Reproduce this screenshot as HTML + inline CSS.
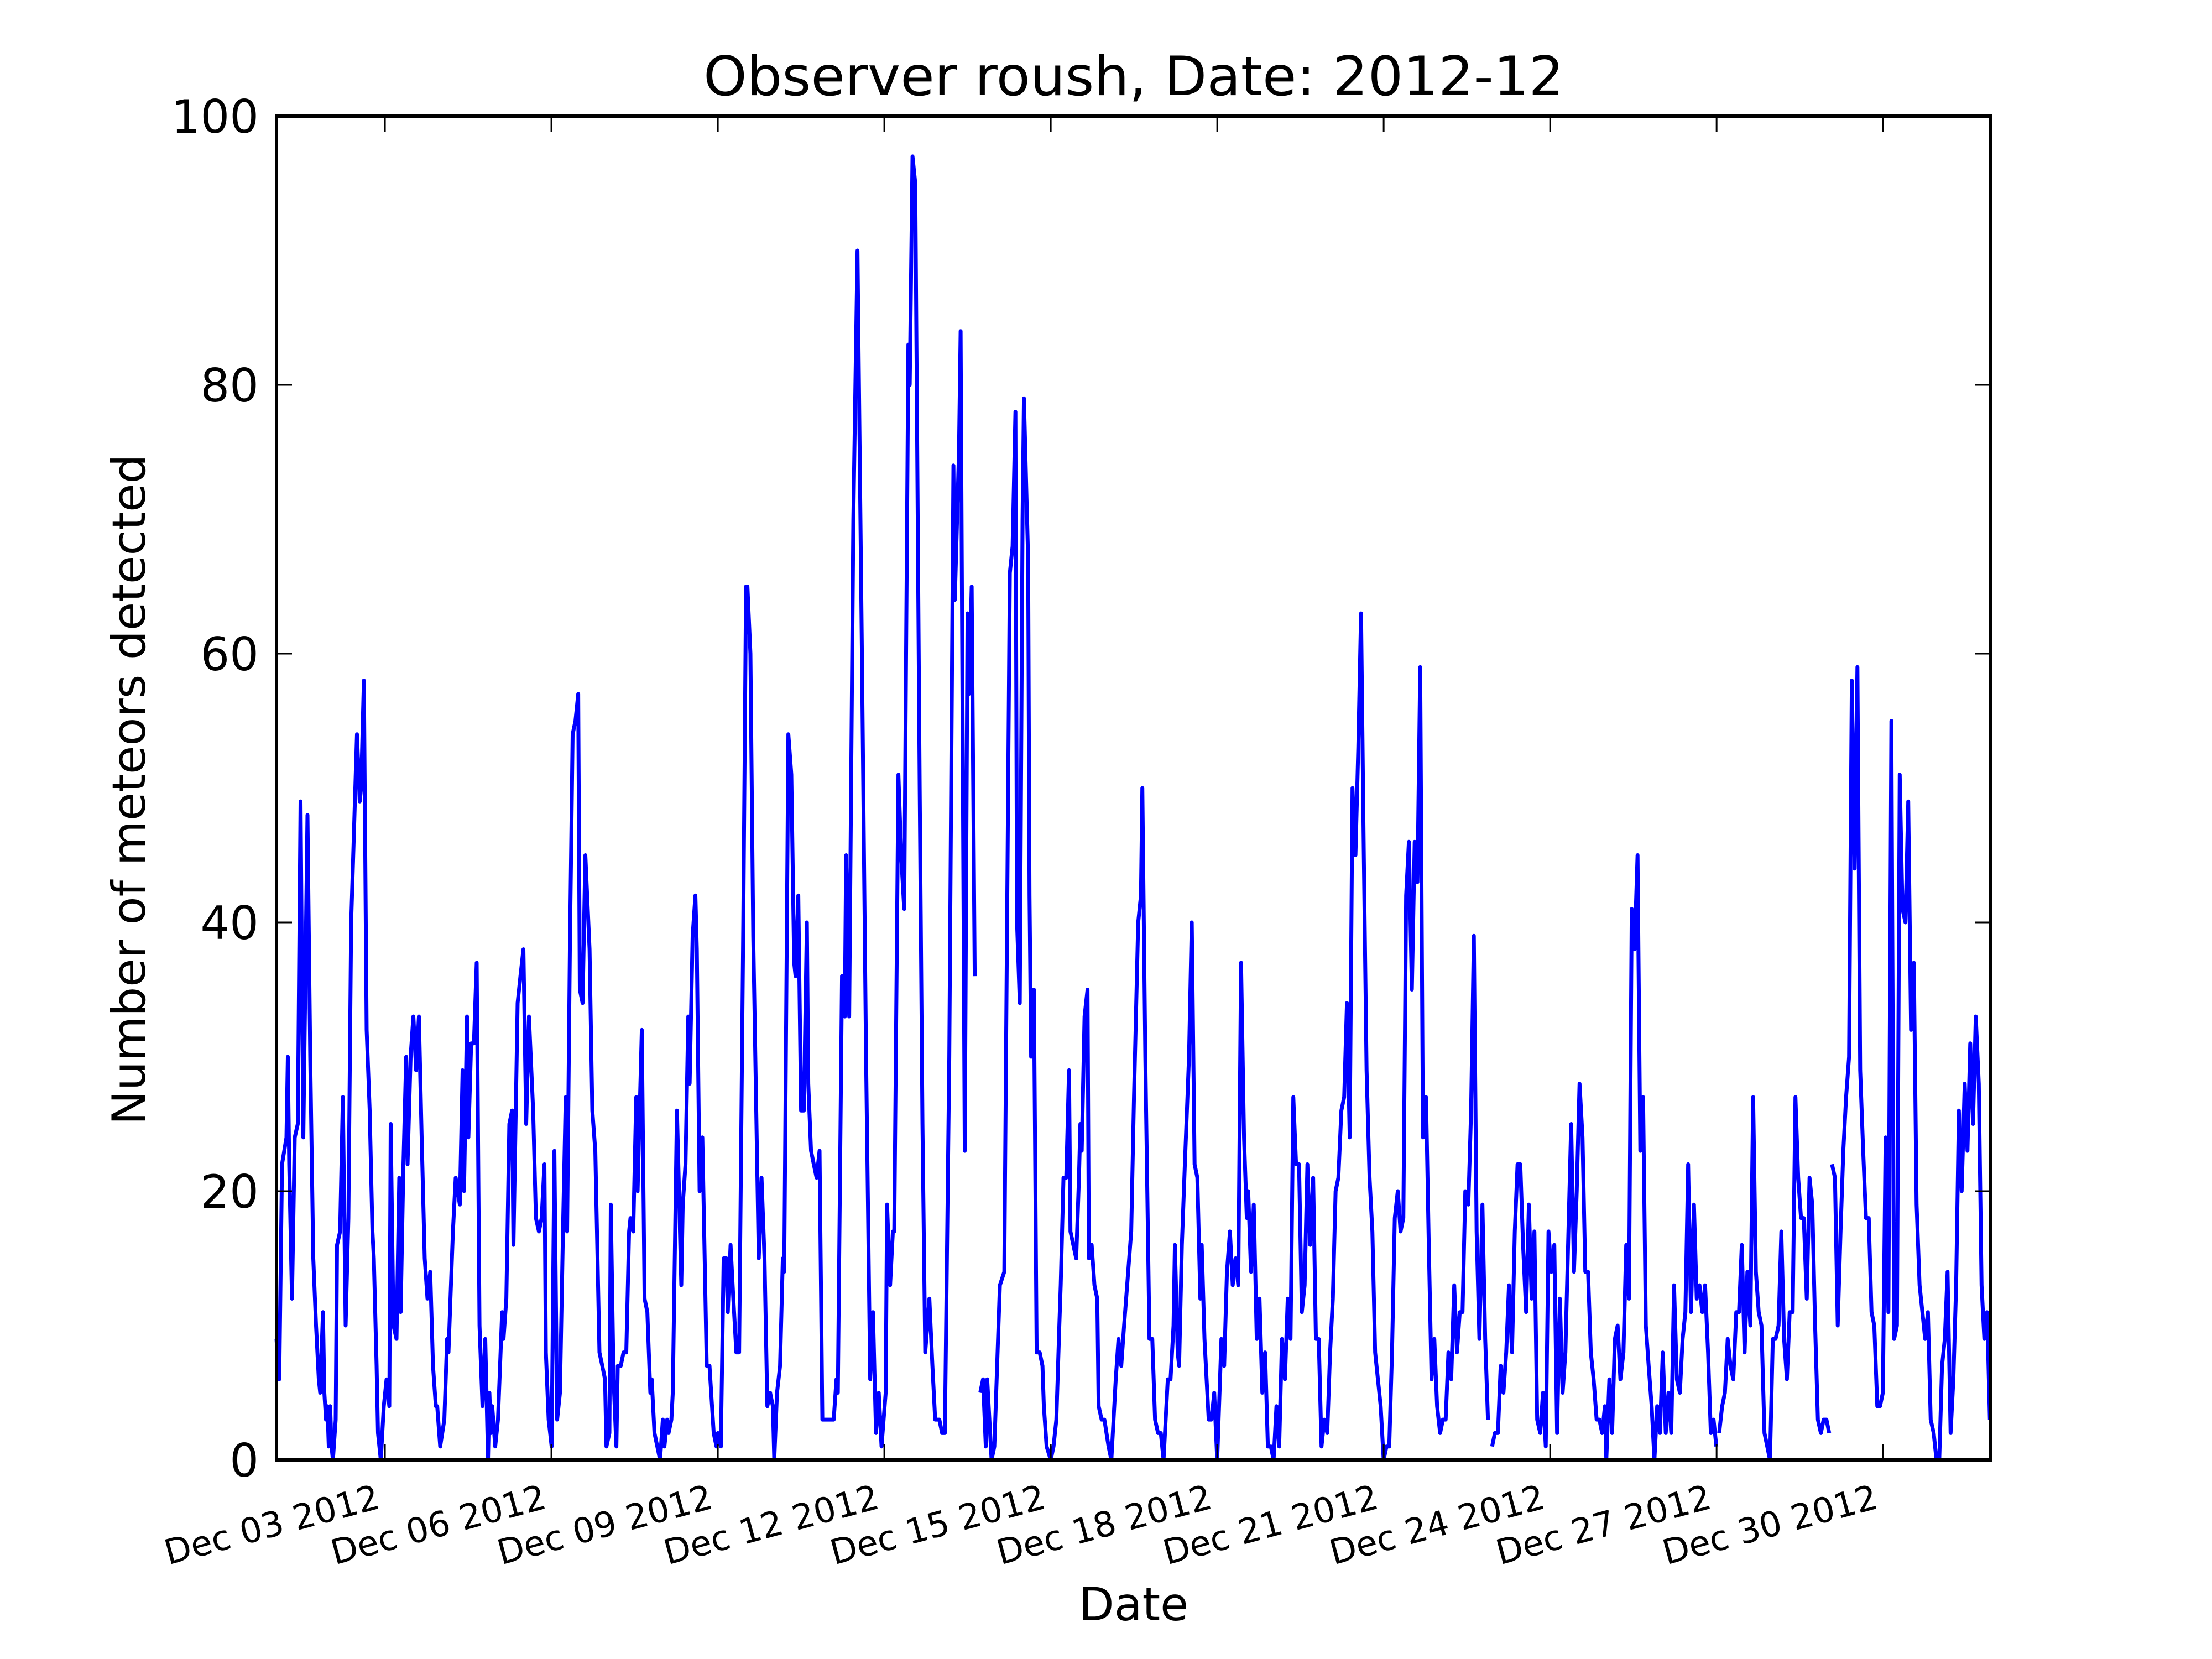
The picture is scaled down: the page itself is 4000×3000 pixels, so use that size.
<!DOCTYPE html>
<html><head><meta charset="utf-8"><style>
html,body{margin:0;padding:0;background:#fff}
svg{display:block}
text{font-family:"DejaVu Sans","Liberation Sans",sans-serif;fill:#000}
</style></head><body>
<svg id="chart" width="4000" height="3000" viewBox="0 0 4000 3000" xmlns="http://www.w3.org/2000/svg">
<rect x="0" y="0" width="4000" height="3000" fill="#fff"/>
<text x="2050" y="172" font-size="98" text-anchor="middle" textLength="1556" lengthAdjust="spacingAndGlyphs">Observer roush, Date: 2012-12</text>
<text x="0" y="0" font-size="83" text-anchor="middle" transform="translate(262,1428) rotate(-90)" textLength="1213" lengthAdjust="spacingAndGlyphs">Number of meteors detected</text>
<text x="2050" y="2930" font-size="83" text-anchor="middle">Date</text>
<g id="plot"></g>
</svg>
<script>
const hours=[1.1,2.3,3.5,5.4,6.0,6.6,7.8,9.0,10.3,11.5,12.7,14.5,15.7,17.0,18.2,19.4,20.0,21.2,21.8,22.5,23.1,23.7,24.3,24.9,25.5,26.7,27.3,28.6,29.8,31.0,32.2,33.4,35.9,37.1,37.7,38.9,40.1,41.4,42.6,43.2,44.4,45.0,46.2,47.5,48.7,49.9,50.5,51.7,53.0,54.2,54.8,56.0,57.2,57.8,59.1,60.3,61.5,62.7,63.9,65.2,66.4,67.6,68.8,70.0,70.6,71.9,73.7,74.9,75.5,77.4,78.6,80.4,81.6,82.2,83.5,84.1,85.3,86.5,87.7,88.9,90.2,91.4,92.6,93.2,93.8,94.4,95.7,96.9,98.7,99.3,100.5,101.8,103.0,103.6,105.4,106.6,107.9,109.1,110.3,112.1,113.3,114.6,115.8,117.0,117.6,118.8,120.1,121.3,122.5,123.7,125.0,126.2,126.8,128.0,129.2,130.4,131.6,132.3,133.5,134.7,136.5,137.7,139.0,140.8,142.0,143.2,143.8,145.1,145.7,146.9,148.1,148.7,150.0,151.2,152.4,153.6,154.2,155.4,156.7,157.3,159.1,160.3,161.5,162.8,163.4,164.6,165.8,167.0,168.2,168.9,170.1,170.7,171.9,172.5,174.3,174.9,176.2,176.8,178.0,179.2,179.8,181.1,182.3,182.9,184.1,185.3,187.2,188.4,190.2,191.4,192.0,193.3,194.5,195.7,196.3,197.5,198.7,200.0,201.2,203.0,204.2,204.8,206.1,207.3,208.5,209.7,210.9,212.2,213.4,214.6,215.8,216.4,217.6,218.9,220.1,220.7,222.5,223.8,225.0,225.6,226.8,228.0,229.2,230.5,231.1,232.3,233.5,234.7,236.0,237.2,238.4,242.1,243.3,243.9,245.7,246.9,247.5,248.8,250.6,252.4,254.3,256.1,257.9,259.1,260.4,261.6,262.8,264.6,265.2,266.5,267.7,268.3,270.1,271.3,272.6,274.4,275.0,276.2,277.4,279.3,280.5,281.7,283.5,284.8,286.0,287.8,289.0,290.2,292.1,293.9,294.5,296.3,297.0,298.8,300.0,300.6,301.8,303.1,304.3,305.5,306.7,307.9,308.5,310.4,311.6,312.8,314.0,315.9,318.3,319.5,320.7,321.4,322.6,323.8,324.4,326.2,326.8,327.5,328.7,329.9,331.2,332.4,333.0,334.2,336.0,337.2,338.4,339.7,340.3,341.5,342.7,343.9,344.5,347.0,348.2,348.8,349.4,350.6,351.9,352.5,353.7,354.9,356.1,356.7,358.0,359.2,361.0,362.2,364.1,365.3,366.5,367.7,370.8,372.0,373.8,375.0,375.6,376.9,378.7,379.9,381.1,382.4,383.6,384.8,386.6,387.8,389.1,389.7,390.9,391.5,392.7,394.0,395.8,397.0,398.2,399.4,400.7,401.3,402.5,404.3,405.5,406.7,408.0,409.8,411.0,412.2,413.5,414.7,415.9,417.1,418.3,419.6,420.8,421.4,422.6,423.8,425.1,426.3,427.5,428.7,429.9,431.2,432.4,433.6,434.8,436.0,437.3,438.5,439.7,440.9,442.1,443.4,444.6,445.8,447.0,448.2,449.5,450.7,451.9,453.1,454.3,455.6,456.8,458.0,459.2,460.4,461.7,462.9,464.1,465.3,466.5,467.8,469.0,470.2,471.4,472.6,473.9,475.1,476.3,477.5,478.7,480.0,481.2,482.4,483.6,484.8,486.1,487.3,488.5,489.7,490.9,492.2,493.4,494.6,495.8,497.0,498.3,499.5,500.7,501.9,503.1,504.4,505.6,506.8,508.0,509.2,510.5,511.7,512.9,514.1,515.3,516.6,517.8,519.0,520.2,521.4,522.7,523.9,525.1,526.0,526.9,528.1,529.4,530.6,531.8,533.0,534.2,535.5,536.7,537.9,539.1,540.3,541.6,542.8,544.0,545.2,546.4,547.7,548.9,550.1,551.3,552.5,553.8,555.0,556.2,557.4,558.6,559.9,561.1,562.3,563.5,564.7,566.0,567.2,568.4,569.6,570.8,572.1,573.3,574.5,575.7,576.3,577.6,578.8,580.0,581.2,582.4,583.7,584.9,586.1,587.3,588.5,589.8,591.0,592.2,593.4,594.6,595.9,597.1,598.3,599.5,600.7,602.0,603.2,604.4,605.6,606.8,608.1,609.3,610.5,611.7,612.9,614.2,615.4,616.6,617.8,619.0,620.3,621.5,622.7,623.9,624.5,625.1,626.4,627.6,628.8,630.0,631.2,632.5,633.7,634.9,636.1,637.3,638.6,639.8,641.0,642.2,643.4,644.7,645.9,647.1,648.3,649.5,650.8,652.0,653.2,654.4,655.6,656.9,658.1,659.3,660.5,661.7,663.0,664.2,665.4,666.6,667.8,669.1,670.3,671.5,672.7,673.3,673.9,675.2,676.4,677.6,678.8,680.0,681.3,682.5,683.7,684.9,686.1,687.4,688.6,689.8,691.0,692.2,693.5,694.7,695.9,697.1,698.3,699.6,700.8,702.0,703.2,704.4,705.7,706.9,708.1,709.3,710.5,711.8,713.0,714.2,715.4,716.6,717.9,719.1,720.3,721.5,722.7,723.9,725.2,726.4,727.6,728.8,730.0,731.3,732.5,733.7,734.9,736.1,737.4,738.6,739.8,741.0,742.2];
const counts=[9,6,22,24,30,22,12,24,25,49,24,48,30,15,10,6,5,11,5,3,4,1,4,1,0,3,16,17,27,10,18,40,54,49,50,58,32,26,17,15,7,2,0,4,6,4,25,10,9,21,11,22,30,22,30,33,29,33,24,15,12,14,7,4,4,1,3,9,8,17,21,19,29,20,33,24,31,31,37,10,4,9,0,5,2,4,1,3,11,9,12,25,26,16,34,36,38,25,33,26,18,17,18,22,8,3,1,23,3,5,17,27,17,38,54,55,57,35,34,45,38,26,23,8,7,6,1,2,19,6,1,7,7,8,8,17,18,17,27,20,32,12,11,5,6,2,1,0,3,1,3,2,3,5,26,22,13,19,22,33,28,39,42,38,20,24,7,7,2,1,2,1,15,15,11,16,12,8,8,40,65,65,60,39,27,15,21,15,4,5,4,0,5,7,15,14,54,51,37,36,42,26,26,40,28,23,22,21,23,3,3,3,6,5,36,33,45,33,70,90,60,30,6,11,2,5,1,5,19,13,17,17,51,45,41,83,80,97,95,50,25,8,12,7,3,3,2,2,30,74,64,75,84,23,63,57,65,36,null,5,6,1,6,0,1,7,13,14,66,68,78,40,34,70,79,67,42,30,35,8,8,7,4,1,0,1,3,10,13,21,21,29,17,15,21,25,23,33,35,15,16,13,12,4,3,3,1,0,6,9,7,10,17,27,40,42,50,30,9,9,3,2,2,0,6,6,10,16,8,7,16,22,30,40,22,21,12,16,9,3,3,5,0,9,7,14,17,13,15,13,37,24,18,20,14,19,9,12,5,8,1,1,0,4,1,9,6,12,9,27,22,22,11,13,22,16,21,9,9,1,3,2,8,12,20,21,26,27,34,24,50,45,53,63,45,29,21,17,8,6,4,0,1,1,8,18,20,17,18,42,46,35,46,43,59,24,27,16,6,9,4,2,3,3,8,6,13,8,11,11,20,19,26,39,17,9,19,9,3,null,1,2,2,7,5,8,13,8,17,22,22,16,11,19,12,17,3,2,5,1,17,14,16,2,12,5,8,17,25,14,20,28,24,14,14,8,6,3,3,2,4,0,6,2,9,10,6,8,16,12,41,38,45,23,27,10,7,4,0,4,2,8,2,5,2,13,6,5,9,11,22,11,19,12,13,11,13,8,2,3,1,null,2,4,5,9,7,6,11,11,16,8,14,10,27,14,11,10,2,1,0,9,9,10,17,9,6,11,11,27,21,18,18,12,21,19,10,3,2,3,3,2,null,22,21,10,17,23,27,30,58,44,59,29,23,18,18,11,10,4,4,5,24,11,55,9,10,51,41,40,49,32,37,19,13,11,9,11,3,2,0,0,7,9,14,2,6,13,26,20,28,23,31,25,33,28,13,9,11,3];
const yTicks=[0,20,40,60,80,100];
const xTickHours=[48,120,192,264,336,408,480,552,624,696];
const xTickLabels=["Dec 03 2012","Dec 06 2012","Dec 09 2012","Dec 12 2012","Dec 15 2012","Dec 18 2012","Dec 21 2012","Dec 24 2012","Dec 27 2012","Dec 30 2012"];

const L=500,R=3600,T=210,B=2640,H0=1.1,H1=742.6;
function xs(h){return L+(h-H0)*(R-L)/(H1-H0);}
function ys(v){return B-v*(B-T)/100;}
const NS="http://www.w3.org/2000/svg";
const g=document.getElementById('plot');
function mk(tag,attrs){const e=document.createElementNS(NS,tag);for(const k in attrs)e.setAttribute(k,attrs[k]);g.appendChild(e);return e;}

let d="",pen=false;
for(let i=0;i<hours.length;i++){
  const v=counts[i];
  if(v===null){pen=false;continue;}
  d+=(pen?"L":"M")+xs(hours[i]).toFixed(1)+" "+ys(v).toFixed(1)+" ";
  pen=true;
}
const line=mk('path',{d:d,fill:"none",stroke:"#0000ff","stroke-width":"7","stroke-linejoin":"round","stroke-linecap":"butt"});



yTicks.forEach(v=>{
  const y=ys(v);
  const t1=mk('line',{x1:L,x2:L+28,y1:y,y2:y,stroke:"#000","stroke-width":"3"});
  
  
  const t2=mk('line',{x1:R-28,x2:R,y1:y,y2:y,stroke:"#000","stroke-width":"3"});
  
  
  const lb=mk('text',{x:468,y:y+30,"font-size":"83","text-anchor":"end"});
  lb.textContent=String(v);
  
  
});
xTickHours.forEach((h,i)=>{
  const x=xs(h);
  const t1=mk('line',{x1:x,x2:x,y1:B,y2:B-28,stroke:"#000","stroke-width":"3"});
  
  
  const t2=mk('line',{x1:x,x2:x,y1:T,y2:T+28,stroke:"#000","stroke-width":"3"});
  
  
  const lx=x-18,ly=2682;
  const lb=mk('text',{x:lx,y:ly+46,"font-size":"62.5","text-anchor":"end",transform:"rotate(-15 "+lx+" "+ly+")"});
  lb.textContent=xTickLabels[i];
  
  
});
const fr=mk('rect',{x:L,y:T,width:R-L,height:B-T,fill:"none",stroke:"#000","stroke-width":"6"});


</script>
</body></html>
